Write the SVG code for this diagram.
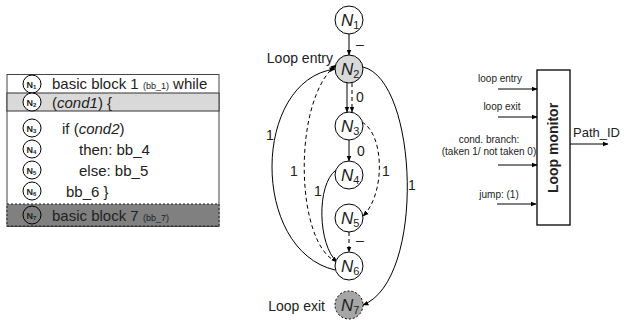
<svg xmlns="http://www.w3.org/2000/svg" width="624" height="320" viewBox="0 0 624 320">
  <defs>
    <marker id="arr" viewBox="0 0 10 10" refX="9" refY="5" markerWidth="6" markerHeight="6" orient="auto" markerUnits="userSpaceOnUse">
      <path d="M0,1 L10,5 L0,9 z" fill="#000"/>
    </marker>
    <style>
      text { font-family: "Liberation Sans", Arial, sans-serif; fill: #222; }
      .row { font-size: 15px; }
      .small { font-size: 9px; }
      .tn { font-size: 9px; font-weight: bold; }
      .ts { font-size: 6px; }
      .tc { fill: #fff; stroke: #000; stroke-width: 1; }
      .node { fill: #fff; stroke: #000; stroke-width: 1; }
      .nl { font-size: 17px; font-style: italic; }
      .sub { font-size: 11px; font-style: normal; }
      .edge { fill: none; stroke: #000; stroke-width: 1; }
      .dash { stroke-dasharray: 4 3; }
      .lbl { font-size: 14px; }
      .sig { font-size: 10px; }
    </style>
  </defs>

  <!-- code table -->
  <g id="table">
    <rect x="7" y="74.5" width="212" height="152" fill="#fff" stroke="#444" stroke-width="1"/>
    <rect x="7" y="93" width="212" height="18" fill="#d9d9d9" stroke="#333" stroke-width="1"/>
    <rect x="7" y="204" width="212" height="22" fill="#808080" stroke="#222" stroke-width="1" stroke-dasharray="2 2"/>
  </g>
  <g id="row1">
    <circle class="tc" cx="32" cy="84" r="9"/>
    <text class="tn" x="26.5" y="87.5">N<tspan class="ts" dy="1.5">1</tspan></text>
    <text class="row" x="52" y="89">basic block 1 <tspan class="small">(bb_1)</tspan> while</text>
  </g>
  <g id="row2">
    <circle class="tc" cx="32" cy="102" r="9"/>
    <text class="tn" x="26.5" y="105.5">N<tspan class="ts" dy="1.5">2</tspan></text>
    <text class="row" x="52" y="107.5">(<tspan font-style="italic">cond1</tspan>) {</text>
  </g>
  <g id="row3">
    <circle class="tc" cx="32" cy="128" r="9"/>
    <text class="tn" x="26.5" y="131.5">N<tspan class="ts" dy="1.5">3</tspan></text>
    <text class="row" x="62" y="133.5">if (<tspan font-style="italic">cond2</tspan>)</text>
  </g>
  <g id="row4">
    <circle class="tc" cx="32" cy="149" r="9"/>
    <text class="tn" x="26.5" y="152.5">N<tspan class="ts" dy="1.5">4</tspan></text>
    <text class="row" x="79" y="154.5">then: bb_4</text>
  </g>
  <g id="row5">
    <circle class="tc" cx="32" cy="170" r="9"/>
    <text class="tn" x="26.5" y="173.5">N<tspan class="ts" dy="1.5">5</tspan></text>
    <text class="row" x="79" y="175.5">else: bb_5</text>
  </g>
  <g id="row6">
    <circle class="tc" cx="32" cy="191" r="9"/>
    <text class="tn" x="26.5" y="194.5">N<tspan class="ts" dy="1.5">6</tspan></text>
    <text class="row" x="66" y="196.5">bb_6 }</text>
  </g>
  <g id="row7">
    <circle cx="32" cy="215" r="9" fill="#808080" stroke="#000"/>
    <text class="tn" x="26.5" y="218.5">N<tspan class="ts" dy="1.5">7</tspan></text>
    <text class="row" x="52" y="220.5">basic block 7 <tspan class="small">(bb_7)</tspan></text>
  </g>

  <!-- control flow graph connectors -->
  <g id="edges">
    <line class="edge" x1="349" y1="34" x2="349" y2="55" marker-end="url(#arr)"/>
    <line class="edge" x1="347" y1="83" x2="347" y2="112" marker-end="url(#arr)"/>
    <line class="edge dash" x1="352" y1="83" x2="352" y2="112" marker-end="url(#arr)"/>
    <line class="edge" x1="349" y1="140" x2="349" y2="161" marker-end="url(#arr)"/>
    <line class="edge dash" x1="349" y1="232" x2="349" y2="252" marker-end="url(#arr)"/>
    <path class="edge dash" d="M362,122 C385,135 385,195 363,216" marker-end="url(#arr)"/>
    <path class="edge" d="M336,170 C316,185 318,245 337,262" marker-end="url(#arr)"/>
    <path class="edge dash" d="M337,262 C295,245 292,100 336,65" marker-end="url(#arr)"/>
    <path class="edge" d="M335,270 C250,250 252,80 335,69" marker-end="url(#arr)"/>
    <path class="edge" d="M363,67 C418,80 426,280 363,305" marker-end="url(#arr)"/>
    <text class="lbl" x="356" y="49">–</text>
    <text class="lbl" x="356" y="102">0</text>
    <text class="lbl" x="357" y="156">0</text>
    <text class="lbl" x="382" y="176">1</text>
    <text class="lbl" x="314" y="196">1</text>
    <text class="lbl" x="290" y="176">1</text>
    <text class="lbl" x="266" y="140">1</text>
    <text class="lbl" x="408" y="190">1</text>
    <text class="lbl" x="356" y="245">–</text>
  </g>

  <!-- graph nodes -->
  <g id="N1">
    <circle class="node" cx="349" cy="20" r="14"/>
    <text class="nl" x="341" y="26">N<tspan class="sub" dy="3">1</tspan></text>
  </g>
  <g id="N2">
    <circle class="node" cx="349" cy="69" r="14" style="fill:#d9d9d9"/>
    <text class="nl" x="341" y="75">N<tspan class="sub" dy="3">2</tspan></text>
    <text class="lbl" x="333" y="63" text-anchor="end">Loop entry</text>
  </g>
  <g id="N3">
    <circle class="node" cx="349" cy="126" r="14"/>
    <text class="nl" x="341" y="132">N<tspan class="sub" dy="3">3</tspan></text>
  </g>
  <g id="N4">
    <circle class="node" cx="349" cy="175" r="14"/>
    <text class="nl" x="341" y="181">N<tspan class="sub" dy="3">4</tspan></text>
  </g>
  <g id="N5">
    <circle class="node" cx="349" cy="218" r="14"/>
    <text class="nl" x="341" y="224">N<tspan class="sub" dy="3">5</tspan></text>
  </g>
  <g id="N6">
    <circle class="node" cx="349" cy="266" r="14"/>
    <text class="nl" x="341" y="272">N<tspan class="sub" dy="3">6</tspan></text>
  </g>
  <g id="N7">
    <circle class="node" cx="349" cy="305" r="14" style="fill:#a6a6a6" stroke-dasharray="2 2"/>
    <text class="nl" x="341" y="311">N<tspan class="sub" dy="3">7</tspan></text>
    <text class="lbl" x="325" y="311" text-anchor="end">Loop exit</text>
  </g>

  <!-- loop monitor block -->
  <g id="monitor">
    <rect x="537" y="70" width="33" height="155" fill="#fff" stroke="#000" stroke-width="1.3"/>
    <text x="558" y="148" font-size="14" font-weight="bold" text-anchor="middle" transform="rotate(-90 558 148)">Loop monitor</text>
  </g>
  <g id="monitor-io">
    <line class="edge" x1="498" y1="89" x2="537" y2="89" marker-end="url(#arr)"/>
    <line class="edge" x1="498" y1="117" x2="537" y2="117" marker-end="url(#arr)"/>
    <line class="edge" x1="498" y1="165" x2="537" y2="165" marker-end="url(#arr)"/>
    <line class="edge" x1="497" y1="204" x2="536" y2="204" marker-end="url(#arr)"/>
    <line class="edge" x1="570" y1="144" x2="608" y2="144" marker-end="url(#arr)"/>
    <text class="sig" x="500" y="82" text-anchor="middle">loop entry</text>
    <text class="sig" x="502" y="110" text-anchor="middle">loop exit</text>
    <text class="sig" x="489" y="143" text-anchor="middle">cond. branch:</text>
    <text class="sig" x="489" y="155" text-anchor="middle">(taken 1/ not taken 0)</text>
    <text class="sig" x="499" y="198" text-anchor="middle">jump: (1)</text>
    <text x="573" y="137" font-size="13">Path_ID</text>
  </g>
</svg>
